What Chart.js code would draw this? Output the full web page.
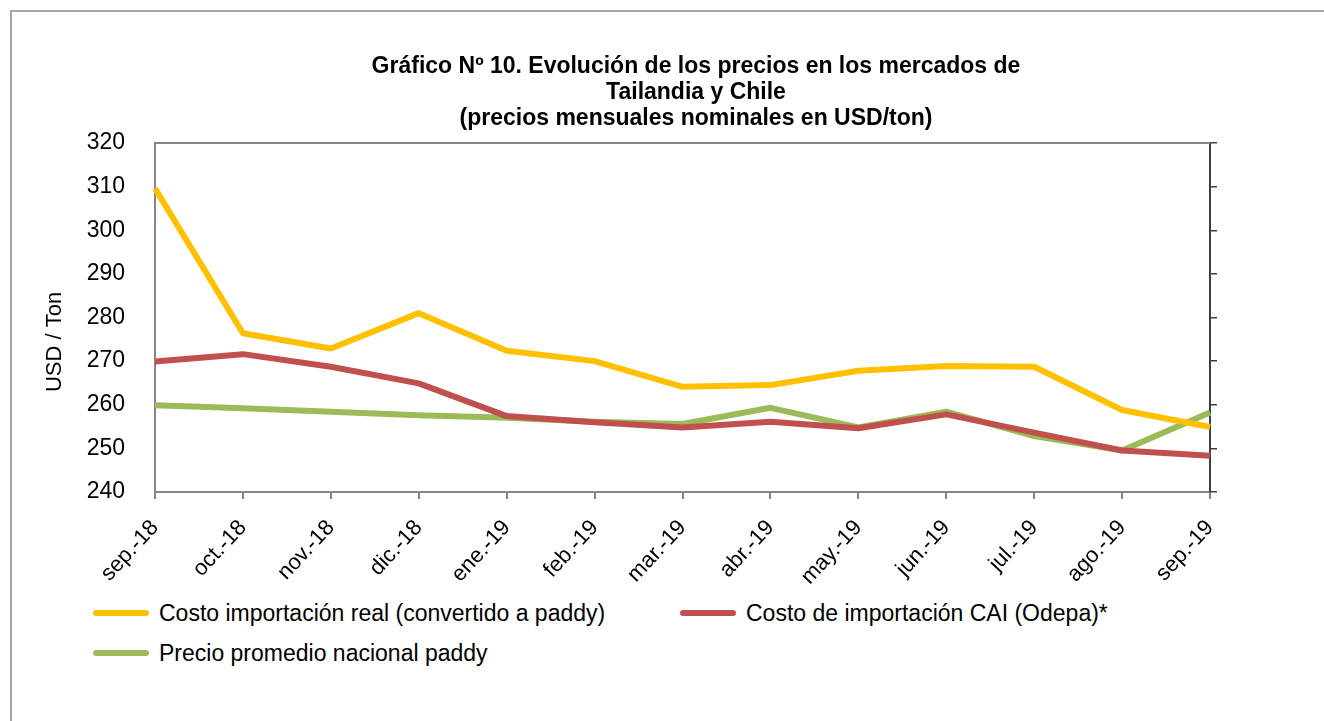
<!DOCTYPE html>
<html lang="es">
<head>
<meta charset="utf-8">
<title>Gráfico Nº 10</title>
<script src="https://cdn.jsdelivr.net/npm/chart.js@4.4.1/dist/chart.umd.min.js"></script>
<style>
  html, body { margin: 0; padding: 0; background: #fff; overflow: hidden; }
  body { width: 1324px; height: 721px; position: relative; font-family: "Liberation Sans", Arial, sans-serif; }
  #frame { position: absolute; left: 10px; top: 10px; width: 1400px; height: 800px; border: 2px solid #a6a6a6; }
  #wrap { position: absolute; left: 0; top: 0; width: 1354px; height: 590px; }
  #legend { position: absolute; left: 93px; top: 593px; display: grid; grid-template-columns: 587px auto; }
  .item { display: flex; align-items: center; height: 40px; font-size: 23px; color: #000; white-space: nowrap; }
  .swatch { display: inline-block; width: 56px; height: 6px; border-radius: 3px; margin-right: 10px; }
</style>
</head>
<body>
<div id="frame"></div>
<div id="wrap"><canvas id="preciosChart" width="1354" height="590"></canvas></div>
<div id="legend"></div>
<script>
// Meses (eje X)
const meses = ['sep.-18', 'oct.-18', 'nov.-18', 'dic.-18', 'ene.-19', 'feb.-19', 'mar.-19',
               'abr.-19', 'may.-19', 'jun.-19', 'jul.-19', 'ago.-19', 'sep.-19'];

// Series en USD/ton
const costoImportacionReal = [309.6, 276.4, 272.9, 281.0, 272.4, 270.0, 264.1, 264.5, 267.8, 268.9, 268.7, 258.8, 254.9];
const costoImportacionCAI = [269.9, 271.6, 268.7, 264.9, 257.4, 256.0, 254.8, 256.1, 254.6, 257.8, 253.6, 249.5, 248.3];
const precioNacionalPaddy = [259.9, 259.2, 258.4, 257.6, 257.0, 256.1, 255.6, 259.3, 254.8, 258.4, 252.8, 249.5, 258.2];

const nombresSeries = ['Costo importación real (convertido a paddy)', 'Costo de importación CAI (Odepa)*', 'Precio promedio nacional paddy'];
const coloresSeries = ['#FFC000', '#C0504D', '#9BBB59'];

const titulo = ['Gráfico Nº 10. Evolución de los precios en los mercados de', 'Tailandia y Chile', '(precios mensuales nominales en USD/ton)'];
const ejeMin = 240, ejeMax = 320, paso = 10;

const FONT = '"Liberation Sans", Arial, sans-serif';

// Línea superior del marco del área de trazado
const topBorder = {
    id: 'topBorder',
    afterDraw(chart) {
        const { ctx, chartArea } = chart;
        ctx.save();
        ctx.strokeStyle = '#868686';
        ctx.lineWidth = 2;
        ctx.beginPath();
        ctx.moveTo(chartArea.left, chartArea.top);
        ctx.lineTo(chartArea.right, chartArea.top);
        ctx.stroke();
        ctx.restore();
    }
};

// Leyenda en HTML construida a partir de los datasets
const htmlLegend = {
    id: 'htmlLegend',
    afterUpdate(chart) {
        const box = document.getElementById('legend');
        box.innerHTML = chart.data.datasets.map(ds => `
            <div class="item"><span class="swatch" style="background:${ds.borderColor}"></span>${ds.label}</div>
        `).join('');
    }
};

const series = [costoImportacionReal, costoImportacionCAI, precioNacionalPaddy];

new Chart(document.getElementById('preciosChart'), {
    type: 'line',
    data: {
        labels: meses,
        datasets: series.map((data, i) => ({
            label: nombresSeries[i],
            data: data,
            borderColor: coloresSeries[i],
            backgroundColor: coloresSeries[i],
            borderWidth: 6,
            pointRadius: 0,
            tension: 0,
            borderJoinStyle: 'round',
            yAxisID: 'y'
        }))
    },
    options: {
        responsive: false,
        animation: false,
        devicePixelRatio: 1,
        layout: { padding: { left: 38, right: 0, top: 0, bottom: 0 } },
        plugins: {
            legend: { display: false },
            tooltip: { enabled: false },
            title: {
                display: true,
                text: titulo,
                color: '#000',
                font: { family: FONT, size: 23, weight: 'bold', lineHeight: '26px' },
                padding: { top: 54, bottom: 11 }
            }
        },
        scales: {
            x: {
                offset: false,
                grid: { drawOnChartArea: false, drawTicks: true, tickLength: 7, color: '#868686', lineWidth: 2 },
                border: { display: true, color: '#868686', width: 2 },
                ticks: {
                    color: '#000',
                    font: { family: FONT, size: 22 },
                    maxRotation: 47,
                    minRotation: 47,
                    padding: 16,
                    autoSkip: false
                },
                afterFit: scale => { scale.height = 98; }
            },
            y: {
                position: 'left',
                min: ejeMin,
                max: ejeMax,
                ticks: { stepSize: paso, color: '#000', font: { family: FONT, size: 23 }, padding: 22 },
                grid: { display: false },
                border: { display: true, color: '#868686', width: 2 },
                title: {
                    display: true,
                    text: 'USD / Ton        ',
                    color: '#000',
                    font: { family: FONT, size: 22 },
                    padding: { top: 4, bottom: 0 }
                },
                afterFit: scale => { scale.width = 117; }
            },
            y2: {
                position: 'right',
                min: ejeMin,
                max: ejeMax,
                ticks: { stepSize: paso, display: false },
                grid: { drawOnChartArea: false, drawTicks: true, tickLength: 7, color: '#404040', lineWidth: 1.5 },
                border: { display: true, color: '#404040', width: 2 },
                afterFit: scale => { scale.width = 144; }
            }
        }
    },
    plugins: [topBorder, htmlLegend]
});
</script>
</body>
</html>
